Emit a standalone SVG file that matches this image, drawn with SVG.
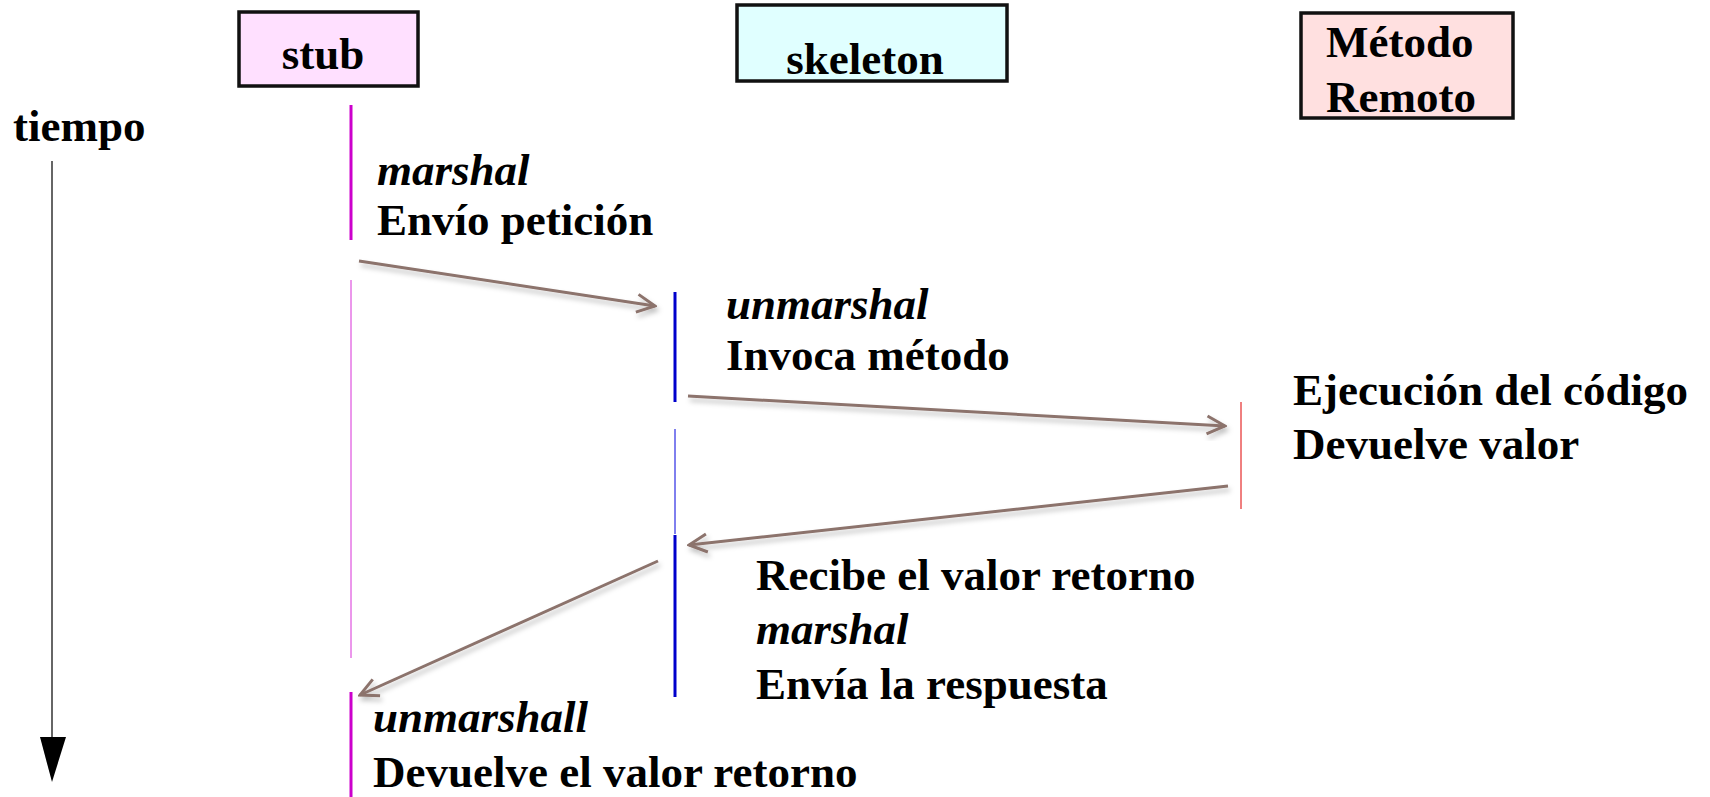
<svg xmlns="http://www.w3.org/2000/svg" width="1710" height="797" viewBox="0 0 1710 797">
<defs>
<style>
.box{stroke:#111;stroke-width:3.5}
.t{font-family:"Liberation Serif","Times New Roman",serif;font-weight:bold;font-size:45px;fill:#000}
.i{font-family:"Liberation Serif","Times New Roman",serif;font-weight:bold;font-style:italic;font-size:45px;fill:#000}
.msg{stroke:#8C736C;stroke-width:3;fill:none;marker-end:url(#ah);filter:url(#sh)}
</style>
<marker id="ah" viewBox="0 0 22 22" refX="20" refY="11" markerWidth="22" markerHeight="22" markerUnits="userSpaceOnUse" orient="auto">
<path d="M2,2 L20,11 L2,20" fill="none" stroke="#8C736C" stroke-width="3"/>
</marker>
<filter id="sh" x="-10%" y="-50%" width="120%" height="200%">
<feDropShadow dx="2" dy="4" stdDeviation="2.5" flood-color="#000" flood-opacity="0.25"/>
</filter>
</defs>
<rect width="1710" height="797" fill="#fff"/>

<g id="stub">
<rect class="box" x="239" y="12" width="179" height="74" fill="#FFE0FF"/>
<text class="t" x="323" y="69" text-anchor="middle">stub</text>
</g>
<g id="skeleton">
<rect class="box" x="737" y="5" width="270" height="76" fill="#E0FFFF"/>
<text class="t" x="865" y="74" text-anchor="middle">skeleton</text>
</g>
<g id="metodo-remoto">
<rect class="box" x="1301" y="13" width="212" height="105" fill="#FFE0E0"/>
<text class="t" x="1326" y="57">Método</text>
<text class="t" x="1326" y="112">Remoto</text>
</g>
<g id="tiempo">
<text class="t" x="13" y="141">tiempo</text>
<line x1="52" y1="161" x2="52" y2="740" stroke="#333" stroke-width="1.5"/>
<polygon points="40,737 66,737 52,782" fill="#000"/>
</g>

<g id="lifelines">
<line x1="351" y1="105" x2="351" y2="240" stroke="#CC00CC" stroke-width="3"/>
<line x1="351" y1="280" x2="351" y2="658" stroke="#D830D8" stroke-width="1"/>
<line x1="351" y1="692" x2="351" y2="797" stroke="#CC00CC" stroke-width="3"/>
<line x1="675" y1="292" x2="675" y2="402" stroke="#0000CC" stroke-width="3"/>
<line x1="675" y1="429" x2="675" y2="534" stroke="#0000DD" stroke-width="1"/>
<line x1="675" y1="535" x2="675" y2="697" stroke="#0000CC" stroke-width="3"/>
<line x1="1241" y1="402" x2="1241" y2="509" stroke="#E00000" stroke-width="1"/>
</g>

<g id="connectors">
<line class="msg" x1="359" y1="261" x2="655" y2="306"/>
<line class="msg" x1="688" y1="396" x2="1225" y2="426"/>
<line class="msg" x1="1228" y1="486" x2="689" y2="545"/>
<line class="msg" x1="658" y1="561" x2="360" y2="695"/>
</g>

<g id="labels">
<text class="i" x="377" y="185">marshal</text>
<text class="t" x="377" y="235">Envío petición</text>
<text class="i" x="726" y="319">unmarshal</text>
<text class="t" x="726" y="370">Invoca método</text>
<text class="t" x="1293" y="405">Ejecución del código</text>
<text class="t" x="1293" y="459">Devuelve valor</text>
<text class="t" x="756" y="590">Recibe el valor retorno</text>
<text class="i" x="756" y="644">marshal</text>
<text class="t" x="756" y="699">Envía la respuesta</text>
<text class="i" x="373" y="732">unmarshall</text>
<text class="t" x="373" y="787">Devuelve el valor retorno</text>
</g>
</svg>
